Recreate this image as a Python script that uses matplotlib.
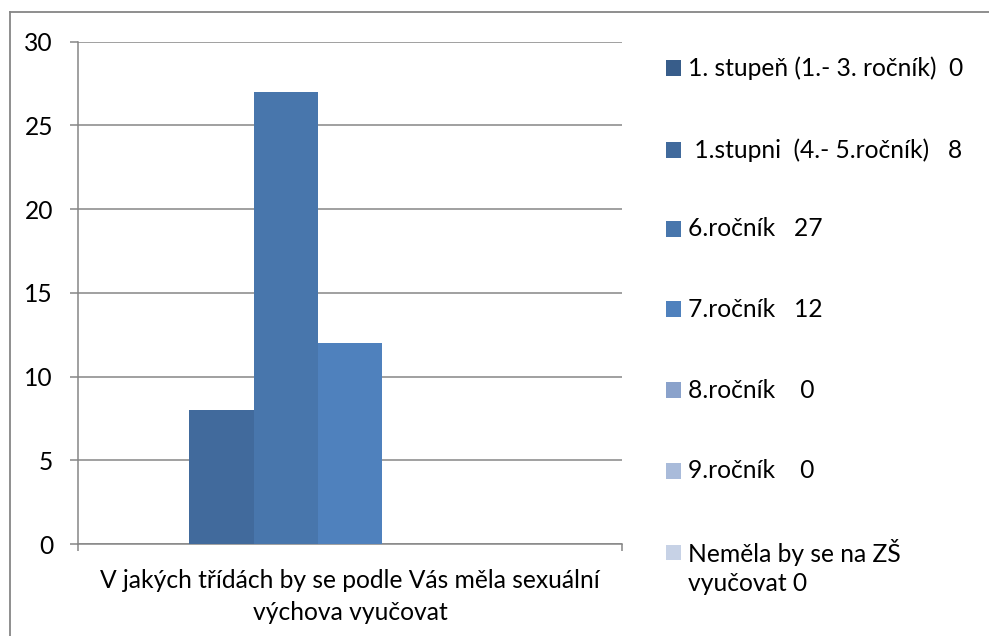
import matplotlib
matplotlib.use("Agg")
import matplotlib.pyplot as plt
from matplotlib.patches import Rectangle
from matplotlib.lines import Line2D

# data
category = "V jakých třídách by se podle Vás měla sexuální\nvýchova vyučovat"
series_names = ["1. stupeň (1.- 3. ročník)  0",
                " 1.stupni  (4.- 5.ročník)   8",
                "6.ročník   27",
                "7.ročník   12",
                "8.ročník    0",
                "9.ročník    0",
                "Neměla by se na ZŠ\nvyučovat 0"]
values = [0, 8, 27, 12, 0, 0, 0]
colors = ["#385D8A", "#416A9C", "#4876AC", "#4F81BD", "#8AA2CB", "#A9BBDA", "#C7D2E6"]

W, H = 989, 636
FS = 17.7
plt.rcParams['font.family'] = ['Lato', 'DejaVu Sans']
fig = plt.figure(figsize=(W / 100, H / 100), dpi=100)

def fx(px):
    return px / W

def fy(py):
    return 1 - py / H

grid_col = "#868686"

# -------------- axes ----------
ax = fig.add_axes([fx(78), fy(544), fx(622) - fx(78), fy(41.7) - fy(544)])
n = len(values)
bw = 0.827 / n
for i, v in enumerate(values):
    ax.bar((i - (n - 1) / 2) * bw, v, width=bw, color=colors[i], linewidth=0, zorder=3)

ax.set_xlim(-0.5, 0.5)
ax.set_ylim(0, 30)
ax.set_yticks(range(0, 31, 5))
ax.yaxis.grid(True, color=grid_col, linewidth=1.1, zorder=0)
ax.set_axisbelow(True)
for s in ["top", "right"]:
    ax.spines[s].set_visible(False)
for s in ["left", "bottom"]:
    ax.spines[s].set_color(grid_col)
    ax.spines[s].set_linewidth(1.1)
ax.tick_params(axis="y", length=6, width=1.1, color=grid_col, labelsize=FS, pad=12, labelcolor="black")

ax.set_xticks([0], labels=[category])
ax.set_xticks([-0.5, 0.5], minor=True)
ax.tick_params(axis="x", which="major", length=0, labelsize=FS, pad=18)
ax.tick_params(axis="x", which="minor", length=5, width=1.1, color=grid_col)
for t in ax.get_xticklabels():
    t.set_linespacing(1.5)

# -------------- legend ----------
leg_y = [68, 150, 229, 309, 390, 471, 552]
for i, name in enumerate(series_names):
    fig.patches.append(Rectangle((fx(666), fy(leg_y[i] + 7.5)), fx(15), fy(0) - fy(15),
                                 transform=fig.transFigure, facecolor=colors[i],
                                 edgecolor="none"))
    fig.text(fx(688), fy(leg_y[i]), name, fontsize=FS, va="top" if "\n" in name else "center",
             ha="left", linespacing=1.3)

# the last entry is two lines: pin first line to the swatch
fig.texts[-1].set_position((fx(688), fy(leg_y[-1] - 13)))

# outer frame (only top and left edges are inside the picture)
fig.add_artist(Line2D([fx(10), 1], [fy(12), fy(12)], color=grid_col, lw=1.3))
fig.add_artist(Line2D([fx(10), fx(10)], [fy(12), 0], color=grid_col, lw=1.3))

fig.savefig("out.png", dpi=100)
